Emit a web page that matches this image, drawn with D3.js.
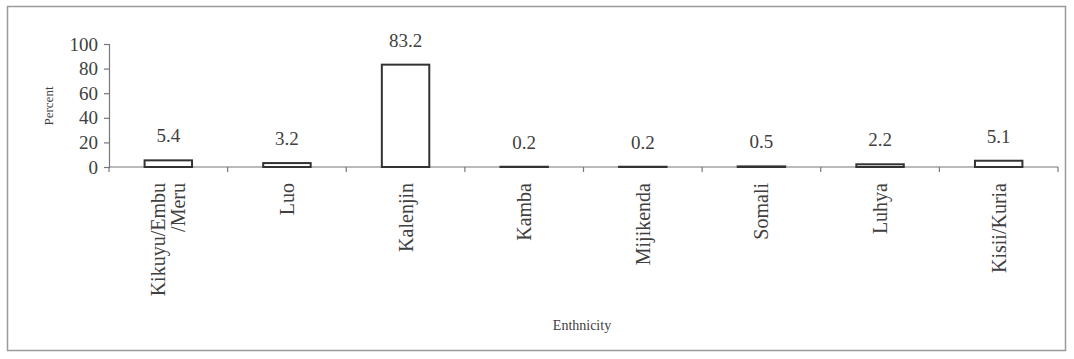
<!DOCTYPE html>
<html>
<head>
<meta charset="utf-8">
<script src="https://cdn.jsdelivr.net/npm/d3@7"></script>
<style>
  body { margin: 0; background: #fff; }
  svg { display: block; }
  text { font-family: "Liberation Serif", "Times New Roman", serif; fill: #404040; }
</style>
</head>
<body>
<svg id="chart"></svg>
<script>
'use strict';

var categories = ['Kikuyu/Embu\n/Meru', 'Luo', 'Kalenjin', 'Kamba', 'Mijikenda', 'Somali', 'Luhya', 'Kisii/Kuria'];
var percents = [5.4, 3.2, 83.2, 0.2, 0.2, 0.5, 2.2, 5.1];
var yTicks = [0, 20, 40, 60, 80, 100];

var width = 1074, height = 359;
var plot = { left: 109, right: 1058, top: 44, bottom: 167 };

var svg = d3.select('#chart')
  .attr('width', width)
  .attr('height', height);

// outer frame
svg.append('rect')
  .attr('x', 7.5).attr('y', 6.5)
  .attr('width', 1058).attr('height', 344)
  .attr('fill', '#fff')
  .attr('stroke', '#9a9a9a')
  .attr('stroke-width', 1.5);

var data = categories.map(function (c, i) { return { name: c, value: percents[i] }; });

var x = d3.scaleBand()
  .domain(categories)
  .range([plot.left, plot.right])
  .paddingInner(0.6)
  .paddingOuter(0.3);

var y = d3.scaleLinear()
  .domain([0, 100])
  .range([plot.bottom, plot.top]);

// y axis
var yAxis = svg.append('g')
  .attr('transform', 'translate(' + plot.left + ',0)')
  .attr('font-family', null)
  .call(d3.axisLeft(y).tickValues(yTicks).tickSize(5).tickPadding(6));
yAxis.attr('font-family', '"Liberation Serif", serif');
yAxis.select('.domain').attr('stroke', '#777').attr('stroke-width', 1.2);
yAxis.selectAll('.tick line').attr('stroke', '#777').attr('stroke-width', 1.2);
yAxis.selectAll('.tick text')
  .style('font-size', '19px')
  .attr('fill', '#404040');

// x axis line and boundary ticks
var xAxis = svg.append('g');
xAxis.append('line')
  .attr('x1', plot.left).attr('x2', plot.right)
  .attr('y1', y(0)).attr('y2', y(0))
  .attr('stroke', '#777').attr('stroke-width', 1.2);
xAxis.selectAll('.bound')
  .data(d3.range(categories.length + 1))
  .enter().append('line')
  .attr('class', 'bound')
  .attr('x1', function (i) { return plot.left + i * x.step(); })
  .attr('x2', function (i) { return plot.left + i * x.step(); })
  .attr('y1', y(0)).attr('y2', y(0) + 5)
  .attr('stroke', '#777').attr('stroke-width', 1.2);

// bars
svg.selectAll('.bar')
  .data(data)
  .enter().append('rect')
  .attr('class', 'bar')
  .attr('x', function (d) { return x(d.name); })
  .attr('width', x.bandwidth())
  .attr('y', function (d) { return y(d.value); })
  .attr('height', function (d) { return y(0) - y(d.value); })
  .attr('fill', '#fff')
  .attr('stroke', '#333')
  .attr('stroke-width', 2);

// value labels
svg.selectAll('.val')
  .data(data)
  .enter().append('text')
  .attr('class', 'val')
  .attr('x', function (d) { return x(d.name) + x.bandwidth() / 2; })
  .attr('y', function (d) { return y(d.value) - 18; })
  .attr('text-anchor', 'middle')
  .style('font-size', '19px')
  .attr('fill', '#505050')
  .text(function (d) { return d.value.toFixed(1); });

// category labels, rotated
var catLabels = svg.selectAll('.cat')
  .data(data)
  .enter().append('text')
  .attr('class', 'cat')
  .attr('text-anchor', 'end')
  .style('font-size', '20px')
  .attr('transform', function (d) {
    var lines = d.name.split('\n').length;
    var cx = x(d.name) + x.bandwidth() / 2 + 7 - (lines - 1) * 10;
    return 'translate(' + cx + ',' + (y(0) + 16) + ') rotate(-90)';
  });
catLabels.each(function (d) {
  var t = d3.select(this);
  d.name.split('\n').forEach(function (line, i) {
    t.append('tspan')
      .attr('x', 0)
      .attr('dy', i === 0 ? 0 : 20)
      .text(line);
  });
});

// axis titles
svg.append('text')
  .attr('transform', 'translate(53,106) rotate(-90)')
  .attr('text-anchor', 'middle')
  .style('font-size', '13px')
  .text('Percent');

svg.append('text')
  .attr('x', 582)
  .attr('y', 330)
  .attr('text-anchor', 'middle')
  .style('font-size', '14px')
  .text('Enthnicity');
</script>
</body>
</html>
